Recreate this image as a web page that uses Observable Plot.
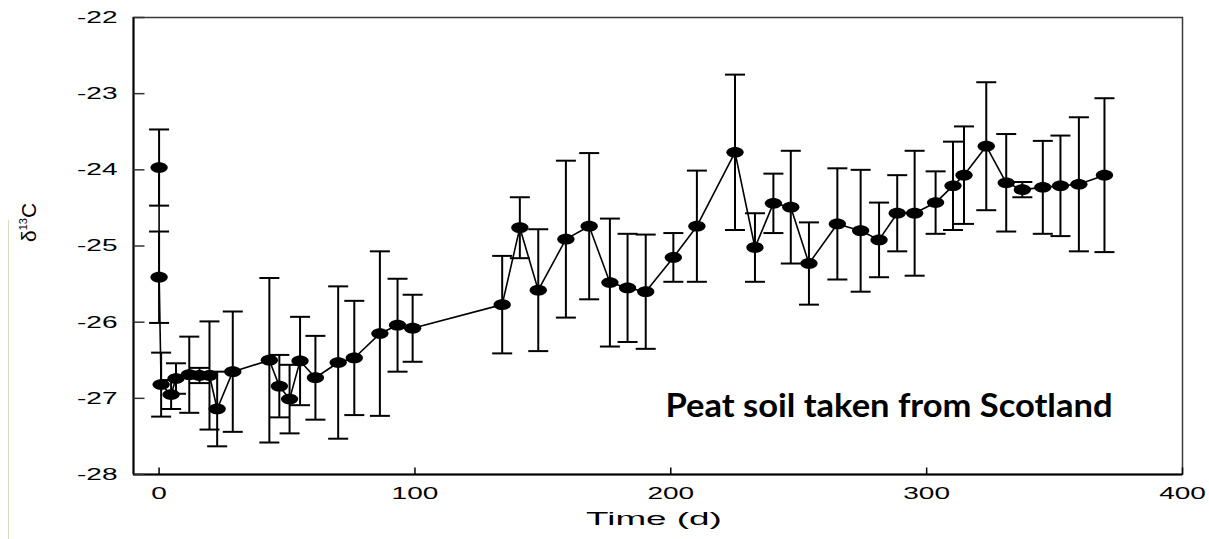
<!DOCTYPE html>
<html>
<head>
<meta charset="utf-8">
<script src="https://cdn.jsdelivr.net/npm/d3@7"></script>
<script src="https://cdn.jsdelivr.net/npm/@observablehq/plot@0.6"></script>
<style>
  html, body { margin: 0; padding: 0; background: #fff; }
  #wrap { position: relative; width: 1209px; height: 539px; overflow: hidden; }
  #edge { position: absolute; left: 8px; top: 220px; width: 1px; height: 319px; background: #d9ddbf; }
  svg { display: block; }
</style>
</head>
<body>
<div id="wrap"><div id="edge"></div></div>
<script>
// ---- data ----
const days = [0, 0, 0.8, 4.7, 6.6, 11.8, 15.8, 19.7, 22.7, 28.8,
  43.1, 47, 51, 55.1, 61.1, 70, 76.3, 86.3, 93.2, 99.1,
  134.1, 141, 148.2, 159, 168.1, 176.2, 183.1, 190.2, 201, 210.2,
  225.1, 232.9, 240.1, 246.9, 254, 265.1, 274.2, 281.4, 288.5, 295.3,
  303.5, 310.3, 314.6, 323.3, 331.1, 337.4, 345.4, 352.3, 359.5, 369.5];
const delta13C = [-23.97, -25.41, -26.82, -26.95, -26.74, -26.69, -26.70, -26.70, -27.14, -26.65,
  -26.50, -26.84, -27.01, -26.51, -26.73, -26.53, -26.47, -26.15, -26.04, -26.08,
  -25.77, -24.76, -25.58, -24.91, -24.74, -25.48, -25.55, -25.60, -25.15, -24.74,
  -23.77, -25.02, -24.44, -24.49, -25.23, -24.71, -24.80, -24.92, -24.57, -24.57,
  -24.43, -24.21, -24.07, -23.69, -24.17, -24.26, -24.23, -24.21, -24.19, -24.07];
const errors = [0.50, 0.60, 0.42, 0.19, 0.20, 0.50, 0.10, 0.71, 0.49, 0.79,
  1.08, 0.41, 0.45, 0.58, 0.55, 1.00, 0.75, 1.08, 0.61, 0.44,
  0.64, 0.40, 0.80, 1.03, 0.96, 0.84, 0.71, 0.75, 0.32, 0.73,
  1.02, 0.45, 0.39, 0.74, 0.54, 0.73, 0.80, 0.49, 0.50, 0.82,
  0.41, 0.58, 0.64, 0.84, 0.64, 0.10, 0.61, 0.66, 0.88, 1.01];
const xTicks = [0, 100, 200, 300, 400];
const yTicks = [-22, -23, -24, -25, -26, -27, -28];
const xDomain = [-10, 400];
const yDomain = [-28, -22];
const xTitle = "Time (d)";
const yTitleParts = ["δ", "13", "C"];
const note = "Peat soil taken from Scotland";

const rows = days.map((t, i) => ({t, v: delta13C[i], lo: delta13C[i] - errors[i], hi: delta13C[i] + errors[i]}));

// custom symbols
const ellipse = {draw(ctx, size) {
  const ry = Math.sqrt(size / Math.PI), rx = ry * 1.6, k = 0.5523;
  ctx.moveTo(rx, 0);
  ctx.bezierCurveTo(rx, k * ry, k * rx, ry, 0, ry);
  ctx.bezierCurveTo(-k * rx, ry, -rx, k * ry, -rx, 0);
  ctx.bezierCurveTo(-rx, -k * ry, -k * rx, -ry, 0, -ry);
  ctx.bezierCurveTo(k * rx, -ry, rx, -k * ry, rx, 0);
  ctx.closePath();
}};
const cap = {draw(ctx) { ctx.moveTo(-10, 0); ctx.lineTo(10, 0); }};
const tickRight = {draw(ctx) { ctx.moveTo(0, 0); ctx.lineTo(11, 0); }};
const tickUp = {draw(ctx) { ctx.moveTo(0, 0); ctx.lineTo(0, -7); }};

const font = "Liberation Sans, Arial, sans-serif";
const yTitle = yTitleParts.join("");

const chart = Plot.plot({
  width: 1209,
  height: 539,
  marginLeft: 133,
  marginRight: 27,
  marginTop: 17,
  marginBottom: 65,
  style: {background: "transparent", fontFamily: font},
  x: {domain: xDomain, axis: null},
  y: {domain: yDomain, axis: null},
  marks: [
    Plot.frame({stroke: "#3a3a3a", strokeWidth: 1.5}),
    Plot.ruleX([xDomain[0]], {stroke: "#000", strokeWidth: 2}),
    Plot.ruleY([yDomain[0]], {stroke: "#000", strokeWidth: 2}),
    // inner ticks
    Plot.dot(yTicks, {x: () => xDomain[0], y: d => d, symbol: tickRight, r: 3, fill: "none", stroke: "#333", strokeWidth: 1.5}),
    Plot.dot(xTicks, {x: d => d, y: () => yDomain[0], symbol: tickUp, r: 3, fill: "none", stroke: "#000", strokeWidth: 1.5}),
    // tick labels
    Plot.text(yTicks, {x: () => xDomain[0], y: d => d, text: d => String(d), textAnchor: "end", dx: -16, fontSize: 17, fill: "#000"}),
    Plot.text(xTicks, {x: d => d, y: () => yDomain[0], text: d => String(d), dy: 19, fontSize: 16, fill: "#000"}),
    // axis titles
    Plot.text([xTitle], {frameAnchor: "bottom", text: d => d, dx: -4, dy: 50, fontSize: 19, fill: "#000"}),
    Plot.text([yTitle], {frameAnchor: "left", text: d => d, rotate: -90, dx: -104, dy: -4, fontSize: 21, fill: "#000"}),
    // error bars
    Plot.ruleX(rows, {x: "t", y1: "lo", y2: "hi", stroke: "#000", strokeWidth: 2}),
    Plot.dot(rows, {x: "t", y: "lo", symbol: cap, r: 3, fill: "none", stroke: "#000", strokeWidth: 2}),
    Plot.dot(rows, {x: "t", y: "hi", symbol: cap, r: 3, fill: "none", stroke: "#000", strokeWidth: 2}),
    // series
    Plot.line(rows, {x: "t", y: "v", stroke: "#000", strokeWidth: 1.6}),
    Plot.dot(rows, {x: "t", y: "v", symbol: ellipse, r: 5.4, fill: "#000", stroke: "none"}),
    // annotation
    Plot.text([note], {frameAnchor: "bottom-right", text: d => d, textAnchor: "end", dx: -70, dy: -58, fontSize: 32, fontWeight: "bold", fontFamily: "Lato, 'Open Sans', sans-serif", fill: "#000"})
  ]
});

// horizontally stretch the axis texts (the original figure is stretched) and fit the note width
const stretchX = new Map([...xTicks.map(d => [String(d), 1.75]), ...yTicks.map(d => [String(d), 1.65]), [xTitle, 1.94]]);
const NS = "http://www.w3.org/2000/svg";
for (const t of chart.querySelectorAll("text")) {
  const s = t.textContent;
  if (stretchX.has(s)) {
    const k = stretchX.get(s);
    const tr = t.getAttribute("transform");
    if (tr) t.setAttribute("transform", tr + ` scale(${k},1)`);
    else {
      const x = +(t.getAttribute("x") || 0), y = +(t.getAttribute("y") || 0);
      t.removeAttribute("x"); t.removeAttribute("y");
      t.setAttribute("transform", `translate(${x},${y}) scale(${k},1)`);
    }
  } else if (s === note) {
    t.setAttribute("textLength", 447);
    t.setAttribute("lengthAdjust", "spacingAndGlyphs");
  } else if (s === yTitle) {
    // real superscript for the isotope number
    t.textContent = "";
    const a = document.createElementNS(NS, "tspan"); a.textContent = yTitleParts[0];
    const b = document.createElementNS(NS, "tspan"); b.textContent = yTitleParts[1];
    b.setAttribute("font-size", "11"); b.setAttribute("dy", "-9");
    const c = document.createElementNS(NS, "tspan"); c.textContent = yTitleParts[2];
    c.setAttribute("dy", "9");
    t.append(a, b, c);
  }
}
document.getElementById("wrap").appendChild(chart);
</script>
</body>
</html>
